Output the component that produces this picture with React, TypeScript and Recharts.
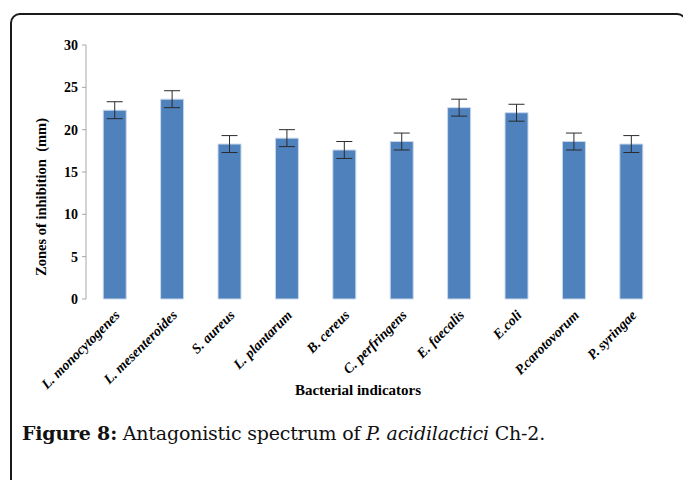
import { BarChart, Bar, XAxis, YAxis, ErrorBar, Label } from 'recharts';

const categories = [
  'L. monocytogenes',
  'L. mesenteroides',
  'S. aureus',
  'L. plantarum',
  'B. cereus',
  'C. perfringens',
  'E. faecalis',
  'E.coli',
  'P.carotovorum',
  'P. syringae',
];
const zones = [22.3, 23.6, 18.3, 19.0, 17.6, 18.6, 22.6, 22.0, 18.6, 18.3];
const zoneErrors = [1.0, 1.0, 1.0, 1.0, 1.0, 1.0, 1.0, 1.0, 1.0, 1.0];
const yTicks = [0, 5, 10, 15, 20, 25, 30];
const boundaryTicks = [0, 1, 2, 3, 4, 5, 6, 7, 8, 9, 10];

const data = categories.map((name, i) => ({ name, value: zones[i], err: zoneErrors[i] }));

const serif = '"Liberation Serif", "Times New Roman", serif';

const CategoryTick = (props: any) => {
  const { x, y, payload } = props;
  return (
    <g transform={`translate(${x + 6},${y + 9})`}>
      <text
        x={0}
        y={0}
        textAnchor="end"
        transform="rotate(-45)"
        fontFamily={serif}
        fontSize={14}
        fontWeight="bold"
        fontStyle="italic"
        fill="#000"
      >
        {payload.value}
      </text>
    </g>
  );
};

const YTitle = (props: any) => {
  const { viewBox } = props;
  const cx = viewBox.x + 15;
  const cy = viewBox.y + viewBox.height / 2 + 25;
  return (
    <text
      x={cx}
      y={cy}
      textAnchor="middle"
      dominantBaseline="central"
      transform={`rotate(-90, ${cx}, ${cy})`}
      fontFamily={serif}
      fontSize={14.5}
      fontWeight="bold"
      fill="#000"
      style={{ whiteSpace: 'pre' }}
    >
      {'Zones of inhibition  (mm)'}
    </text>
  );
};

const XTitle = (props: any) => {
  const { viewBox } = props;
  const cx = viewBox.x + viewBox.width / 2 - 15;
  const cy = viewBox.y + viewBox.height - 10;
  return (
    <text
      x={cx}
      y={cy}
      textAnchor="middle"
      dominantBaseline="central"
      fontFamily={serif}
      fontSize={15}
      fontWeight="bold"
      fill="#000"
    >
      Bacterial indicators
    </text>
  );
};

export default function App() {
  return (
    <div
      style={{
        position: 'absolute',
        left: 0,
        top: 0,
        width: 683,
        height: 480,
        overflow: 'hidden',
        background: '#fff',
      }}
    >
      <div
        style={{
          position: 'absolute',
          left: 10,
          top: 13,
          width: 677,
          height: 520,
          boxSizing: 'border-box',
          border: '2px solid #1a1a1a',
          borderRadius: 10,
        }}
      />
      <div style={{ position: 'absolute', left: 0, top: 0 }}>
        <BarChart
          width={683}
          height={400}
          data={data}
          margin={{ top: 45, right: 23, left: 26, bottom: 0 }}
          barCategoryGap="30%"
        >
          <XAxis
            xAxisId="grid"
            type="number"
            domain={[0, 10]}
            ticks={boundaryTicks}
            tick={false}
            tickSize={5}
            height={0}
            axisLine={{ stroke: '#a6a6a6' }}
            tickLine={{ stroke: '#a6a6a6' }}
          />
          <XAxis
            xAxisId="cat"
            dataKey="name"
            height={101}
            interval={0}
            axisLine={false}
            tickLine={false}
            tick={<CategoryTick />}
          >
            <Label content={<XTitle />} />
          </XAxis>
          <YAxis
            domain={[0, 30]}
            ticks={yTicks}
            width={60}
            tickSize={4}
            tickMargin={4}
            axisLine={{ stroke: '#a6a6a6' }}
            tickLine={{ stroke: '#a6a6a6' }}
            tick={{ fontFamily: serif, fontSize: 14, fontWeight: 'bold', fill: '#000' }}
          >
            <Label content={<YTitle />} />
          </YAxis>
          <Bar
            xAxisId="cat"
            dataKey="value"
            fill="#4f81bd"
            stroke="#c9d8ec"
            strokeWidth={1}
            isAnimationActive={false}
          >
            <ErrorBar dataKey="err" width={8} stroke="#2b2b2b" strokeWidth={1} />
          </Bar>
        </BarChart>
      </div>
      <div
        style={{
          position: 'absolute',
          left: 22,
          top: 422,
          fontFamily: '"DejaVu Serif", serif',
          fontSize: 19,
          color: '#111',
          whiteSpace: 'nowrap',
          letterSpacing: -0.2,
        }}
      >
        <b>Figure 8:</b> Antagonistic spectrum of <i>P. acidilactici</i> Ch-2.
      </div>
    </div>
  );
}
